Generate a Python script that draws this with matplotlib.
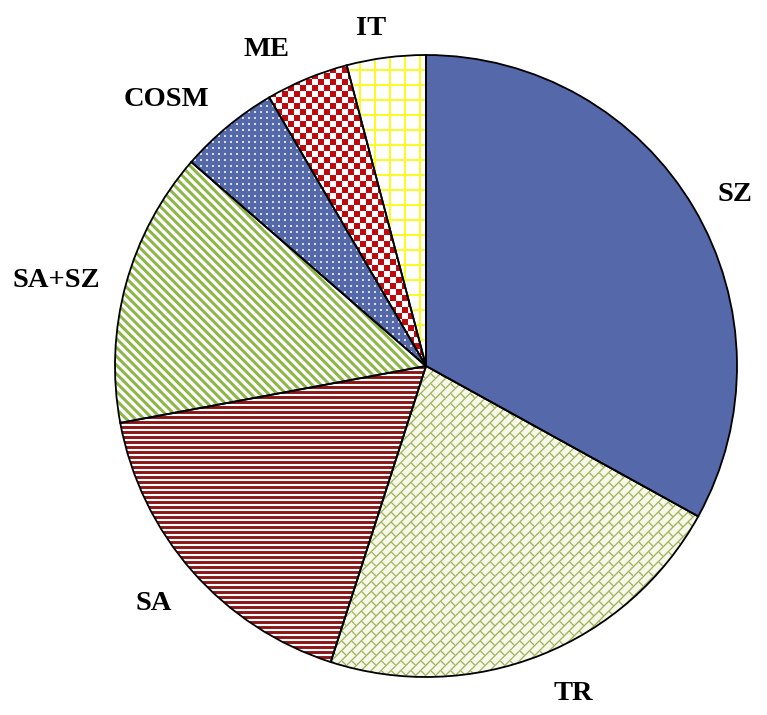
import numpy as np
import matplotlib
matplotlib.use("Agg")
import matplotlib.pyplot as plt

# shares, clockwise from 12 o'clock
labels = ["SZ", "TR", "SA", "SA+SZ", "COSM", "ME", "IT"]
shares = [33.0, 21.9, 17.1, 14.3, 5.2, 4.3, 4.1]

# label placement: distance (in radii) and small angle nudge (deg)
label_dist = [1.14, 1.145, 1.157, 1.222, 1.203, 1.148, 1.109]
label_nudge = [-1.0, 2.8, -0.6, 1.7, 4.3, 4.1, 1.8]

W, H = 767, 715
fig = plt.figure(figsize=(W / 100, H / 100), dpi=100)
ax = fig.add_axes([0, 0, 1, 1])
cx, cy, R = 426, H - 366, 311


def rgb(c):
    return np.array(c, dtype=float) / 255.0


X, Y = np.meshgrid(np.arange(W) + 0.5, np.arange(H) + 0.5)


def paint(alpha, fg, bg):
    # alpha: 0..1 coverage of the foreground colour
    a = np.clip(alpha, 0, 1)[..., None]
    return rgb(fg) * a + rgb(bg) * (1 - a)


def line_cov(coord, period, lw):
    # soft coverage of lines of width lw every `period` along coord
    d = np.abs(((coord + period / 2) % period) - period / 2)
    return np.clip(lw / 2 + 0.5 - d, 0, 1)


blue = (84, 104, 170)
white = (255, 255, 255)


def pattern(kind):
    if kind == "solid":
        return paint(np.zeros_like(X), blue, blue)
    if kind == "brick":
        s2 = np.sqrt(2)
        p = (-X + Y) / s2
        s = (X + Y) / s2
        h, w, lw = 7.0, 14.0, 1.3
        row = np.floor(p / h)
        a = line_cov(p, h, lw)
        a = np.maximum(a, line_cov(s + (row % 2) * w / 2, w, lw))
        return paint(a, (160, 178, 95), (246, 249, 232))
    if kind == "hstripe":
        return paint(line_cov(Y, 5.0, 2.1), white, (140, 22, 22))
    if kind == "diag":
        return paint(line_cov((X + Y) / np.sqrt(2), 8.8 / np.sqrt(2), 3.0),
                     (140, 182, 70), white)
    if kind == "dots":
        a = (((X % 6) - 3) ** 2 + ((Y % 6) - 3) ** 2 < 1.3).astype(float)
        return paint(a, (215, 222, 240), blue)
    if kind == "checker":
        a = (((np.floor(X / 6) + np.floor(Y / 6)) % 2) == 0).astype(float)
        return paint(a, (190, 10, 15), white)
    if kind == "grid":
        a = np.maximum(line_cov(X, 15, 2.0), line_cov(Y, 15, 2.0))
        return paint(a, (250, 250, 40), white)


patterns = ["solid", "brick", "hstripe", "diag", "dots", "checker", "grid"]

wedges, _ = ax.pie(shares, startangle=90, counterclock=False,
                   center=(cx, cy), radius=R, colors=["white"] * len(shares),
                   wedgeprops=dict(linewidth=0))

for w, kind in zip(wedges, patterns):
    im = ax.imshow(pattern(kind), extent=(0, W, 0, H), origin="lower",
                   interpolation="nearest", zorder=2)
    im.set_clip_path(w)

# outlines on top
ax.pie(shares, startangle=90, counterclock=False, center=(cx, cy), radius=R,
       wedgeprops=dict(fill=False, edgecolor="black", linewidth=1.3, zorder=3))

fs = 20.5
cap = 0.66 * fs * 100 / 72
for w, lab, d, nud in zip(wedges, labels, label_dist, label_nudge):
    ang = np.deg2rad((w.theta1 + w.theta2) / 2 + nud)
    x = cx + d * R * np.cos(ang)
    y = cy + d * R * np.sin(ang)
    ax.text(x, y - cap / 2, lab, ha="center", va="baseline",
            fontsize=fs, fontweight="bold", family="Liberation Serif",
            zorder=4)

ax.set_xlim(0, W)
ax.set_ylim(0, H)
ax.set_aspect("auto")
ax.axis("off")

fig.savefig("out.png", dpi=100, facecolor="white")
